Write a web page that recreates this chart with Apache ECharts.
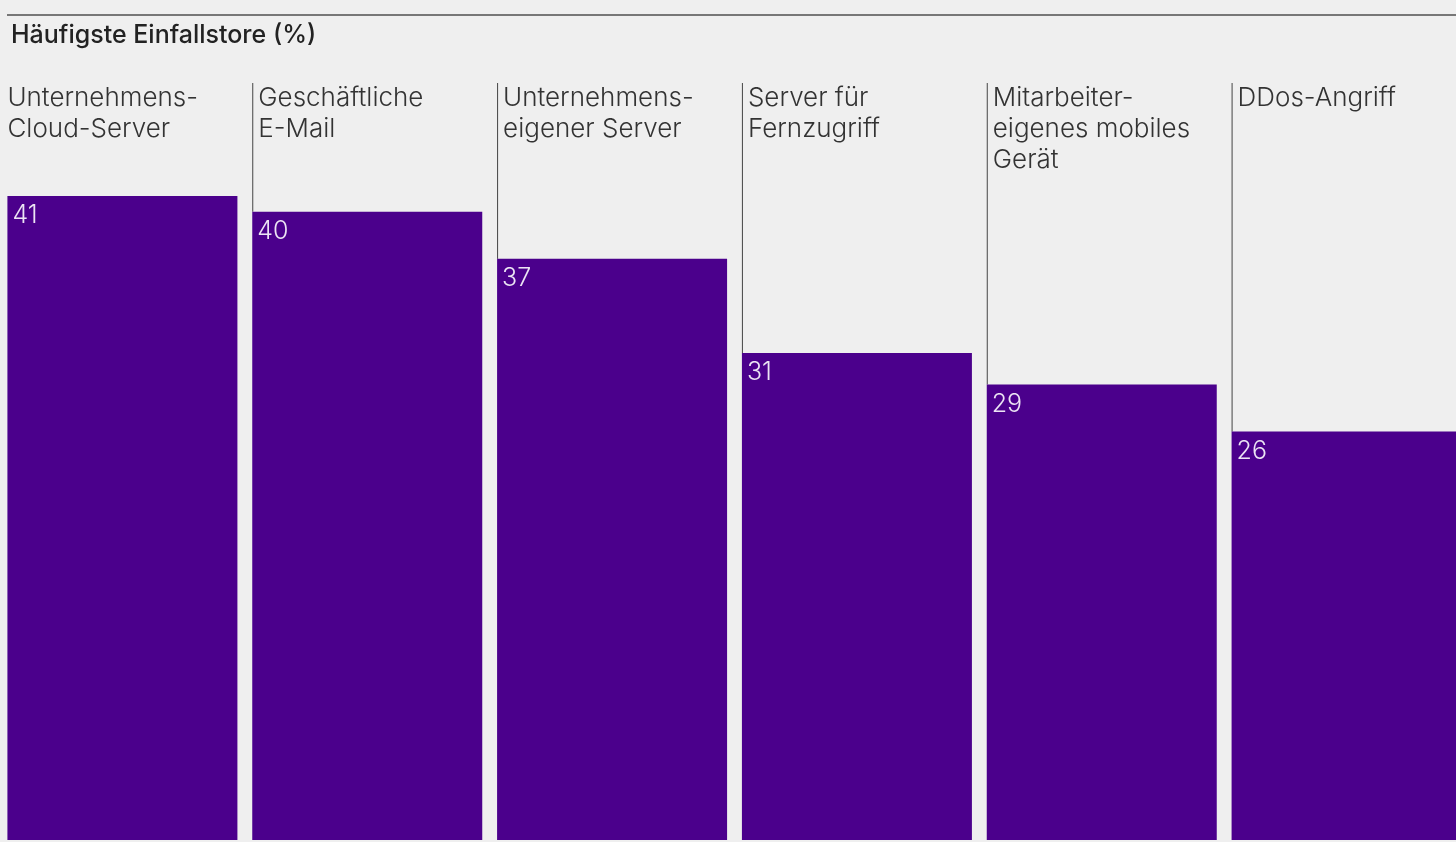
<!DOCTYPE html>
<html>
<head>
<meta charset="utf-8">
<script src="https://cdn.jsdelivr.net/npm/echarts@6/dist/echarts.min.js"></script>
<style>
html,body{margin:0;padding:0;background:#efefef;}
#chart{width:1456px;height:842px;}
</style>
</head>
<body>
<div id="chart"></div>
<script>
const title = 'Häufigste Einfallstore (%)';
const categories = [
  'Unternehmens-\nCloud-Server',
  'Geschäftliche\nE-Mail',
  'Unternehmens-\neigener Server',
  'Server für\nFernzugriff',
  'Mitarbeiter-\neigenes mobiles\nGerät',
  'DDos-Angriff'
];
const values = [41, 40, 37, 31, 29, 26];

const FONT = 'Inter, "Liberation Sans", sans-serif';
const BAR_W = 230;
const chart = echarts.init(document.getElementById('chart'), null, {renderer: 'canvas'});

chart.setOption({
  backgroundColor: '#efefef',
  animation: false,
  title: {
    text: title,
    left: 11, top: 23, padding: 0,
    textStyle: {fontFamily: FONT, fontSize: 25, fontWeight: 500, color: '#222'}
  },
  graphic: [{
    type: 'line',
    shape: {x1: 7, y1: 15, x2: 1456, y2: 15},
    style: {stroke: '#777', lineWidth: 2}
  }],
  grid: {left: 0, width: 1469, top: 0, bottom: 2, outerBoundsMode: 'none', containLabel: false},
  xAxis: {
    type: 'category', data: categories,
    axisLine: {show: false}, axisTick: {show: false}, axisLabel: {show: false},
    splitLine: {show: false}
  },
  yAxis: {
    type: 'value', min: 0, max: 53.48, show: false, splitLine: {show: false}
  },
  series: [
    {
      type: 'custom',
      z: 1,
      data: values.map((v, i) => [i, v]),
      renderItem: function (params, api) {
        const i = api.value(0);
        const c = api.coord([i, 0]);
        const topPt = api.coord([i, api.value(1)]);
        const left = c[0] - BAR_W / 2;
        const gTop = params.coordSys.y;
        const children = [];
        if (i > 0) {
          children.push({
            type: 'line',
            shape: {x1: left + 0.5, y1: gTop + 83, x2: left + 0.5, y2: topPt[1]},
            style: {stroke: '#444', lineWidth: 1}
          });
        }
        children.push({
          type: 'text',
          style: {
            text: categories[i],
            x: left + (i > 0 ? 6 : 0), y: gTop + 83,
            fontFamily: FONT, fontSize: 26, fontWeight: 300,
            lineHeight: 31, fill: '#333',
            verticalAlign: 'top', align: 'left'
          }
        });
        return {type: 'group', children: children};
      }
    },
    {
      type: 'bar',
      z: 2,
      data: values,
      barWidth: BAR_W,
      itemStyle: {color: '#4b008c'},
      label: {
        show: true,
        position: 'insideTopLeft',
        distance: 5,
        offset: [0, 2],
        fontFamily: FONT, fontSize: 25, fontWeight: 300,
        color: '#ece4f4'
      }
    }
  ]
});
</script>
</body>
</html>
